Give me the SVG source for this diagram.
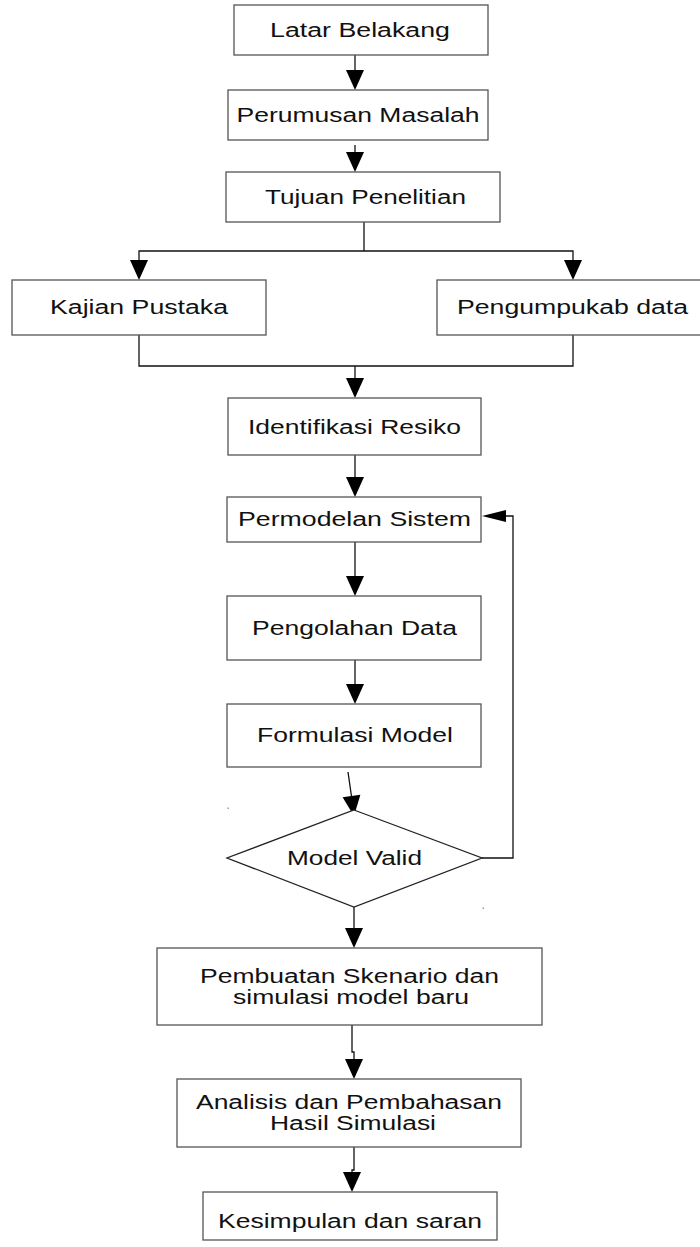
<svg xmlns="http://www.w3.org/2000/svg" width="700" height="1247" viewBox="0 0 700 1247">
  <style>
    .box { fill: #ffffff; stroke: #555555; stroke-width: 1.3; }
    .lbl { font-family: "Liberation Sans", Arial, sans-serif; font-size: 19.5px; fill: #111111; text-anchor: middle; }
    .wire { fill: none; stroke: #111111; stroke-width: 1.3; }
    .head { fill: #000000; }
    .speck { fill: #9a9a9a; }
  </style>
  <defs>
    <!-- downward arrowhead, tip at origin -->
    <path id="down" class="head" d="M0,0 L-9,-20 L9,-20 Z"/>
  </defs>
  <rect width="700" height="1247" fill="#ffffff"/>

  <g id="connectors">
    <!-- Latar Belakang -> Perumusan Masalah -->
    <line class="wire" x1="355" y1="55" x2="355" y2="72"/>
    <use href="#down" x="355" y="90"/>
    <!-- Perumusan Masalah -> Tujuan Penelitian -->
    <line class="wire" x1="355" y1="145" x2="355" y2="154"/>
    <use href="#down" x="355" y="172"/>
    <!-- split to the two parallel steps -->
    <polyline class="wire" points="364,222 364,251"/>
    <polyline class="wire" points="139,262 139,251 573,251 573,262"/>
    <use href="#down" x="139" y="280"/>
    <use href="#down" x="573" y="280"/>
    <!-- merge into Identifikasi Resiko -->
    <polyline class="wire" points="139,335 139,366 573,366 573,335"/>
    <line class="wire" x1="355" y1="366" x2="355" y2="380"/>
    <use href="#down" x="355" y="398"/>
    <!-- Identifikasi Resiko -> Permodelan Sistem -->
    <line class="wire" x1="355" y1="455" x2="355" y2="479"/>
    <use href="#down" x="355" y="497"/>
    <!-- Permodelan Sistem -> Pengolahan Data -->
    <line class="wire" x1="355" y1="542" x2="355" y2="578"/>
    <use href="#down" x="355" y="596"/>
    <!-- Pengolahan Data -> Formulasi Model -->
    <line class="wire" x1="355" y1="660" x2="355" y2="686"/>
    <use href="#down" x="355" y="704"/>
    <!-- Formulasi Model -> Model Valid (slightly slanted) -->
    <line class="wire" x1="348" y1="772" x2="352" y2="800"/>
    <path class="head" d="M354,816 L342.6,797.2 L360.4,794.8 Z"/>
    <!-- feedback loop: Model Valid -> Permodelan Sistem -->
    <polyline class="wire" points="482,858 513,858 513,516 504,516"/>
    <path class="head" d="M482,516 L506,510 L506,522 Z"/>
    <!-- Model Valid -> Pembuatan Skenario -->
    <line class="wire" x1="354" y1="907" x2="354" y2="930"/>
    <use href="#down" x="354" y="948"/>
    <!-- Pembuatan Skenario -> Analisis -->
    <polyline class="wire" points="352,1025 352,1052 354,1052 354,1060"/>
    <use href="#down" x="354" y="1079"/>
    <!-- Analisis -> Kesimpulan -->
    <polyline class="wire" points="354,1147 354,1170 352,1170 352,1174"/>
    <use href="#down" x="352" y="1192"/>
  </g>

  <g id="latar-belakang">
    <rect class="box" x="234" y="5" width="254" height="50"/>
    <text class="lbl" x="360" y="37" textLength="180" lengthAdjust="spacingAndGlyphs">Latar Belakang</text>
  </g>
  <g id="perumusan-masalah">
    <rect class="box" x="228" y="90" width="260" height="50"/>
    <text class="lbl" x="358" y="122" textLength="243" lengthAdjust="spacingAndGlyphs">Perumusan Masalah</text>
  </g>
  <g id="tujuan-penelitian">
    <rect class="box" x="226" y="172" width="274" height="50"/>
    <text class="lbl" x="365.5" y="204" textLength="201" lengthAdjust="spacingAndGlyphs">Tujuan Penelitian</text>
  </g>
  <g id="kajian-pustaka">
    <rect class="box" x="12" y="280" width="254" height="55"/>
    <text class="lbl" x="139" y="314" textLength="178" lengthAdjust="spacingAndGlyphs">Kajian Pustaka</text>
  </g>
  <g id="pengumpulan-data">
    <rect class="box" x="437" y="280" width="280" height="55"/>
    <text class="lbl" x="572.5" y="314" textLength="231" lengthAdjust="spacingAndGlyphs">Pengumpukab data</text>
  </g>
  <g id="identifikasi-resiko">
    <rect class="box" x="228" y="398" width="253" height="57"/>
    <text class="lbl" x="354.5" y="434" textLength="213" lengthAdjust="spacingAndGlyphs">Identifikasi Resiko</text>
  </g>
  <g id="permodelan-sistem">
    <rect class="box" x="227" y="497" width="254" height="45"/>
    <text class="lbl" x="354.5" y="526" textLength="233" lengthAdjust="spacingAndGlyphs">Permodelan Sistem</text>
  </g>
  <g id="pengolahan-data">
    <rect class="box" x="227" y="596" width="254" height="64"/>
    <text class="lbl" x="354.5" y="635" textLength="205" lengthAdjust="spacingAndGlyphs">Pengolahan Data</text>
  </g>
  <g id="formulasi-model">
    <rect class="box" x="227" y="704" width="254" height="63"/>
    <text class="lbl" x="355" y="742" textLength="196" lengthAdjust="spacingAndGlyphs">Formulasi Model</text>
  </g>
  <g id="model-valid">
    <polygon class="box" points="354,810 482,858 354,907 227,858" style="stroke:#222222"/>
    <text class="lbl" x="354.5" y="865" textLength="135" lengthAdjust="spacingAndGlyphs">Model Valid</text>
  </g>
  <g id="pembuatan-skenario">
    <rect class="box" x="157" y="948" width="385" height="77"/>
    <text class="lbl" x="349.5" y="983" textLength="299" lengthAdjust="spacingAndGlyphs">Pembuatan Skenario dan</text>
    <text class="lbl" x="351" y="1004" textLength="236" lengthAdjust="spacingAndGlyphs">simulasi model baru</text>
  </g>
  <g id="analisis-pembahasan">
    <rect class="box" x="177" y="1079" width="344" height="68"/>
    <text class="lbl" x="349" y="1109" textLength="306" lengthAdjust="spacingAndGlyphs">Analisis dan Pembahasan</text>
    <text class="lbl" x="353" y="1130" textLength="166" lengthAdjust="spacingAndGlyphs">Hasil Simulasi</text>
  </g>
  <g id="kesimpulan-saran">
    <rect class="box" x="203" y="1192" width="294" height="48"/>
    <text class="lbl" x="350" y="1228" textLength="264" lengthAdjust="spacingAndGlyphs">Kesimpulan dan saran</text>
  </g>

  <!-- small specks near the decision shape -->
  <rect class="speck" x="227.5" y="807.5" width="1.5" height="1.5"/>
  <rect class="speck" x="482.5" y="907.5" width="1.5" height="1.5"/>
</svg>
